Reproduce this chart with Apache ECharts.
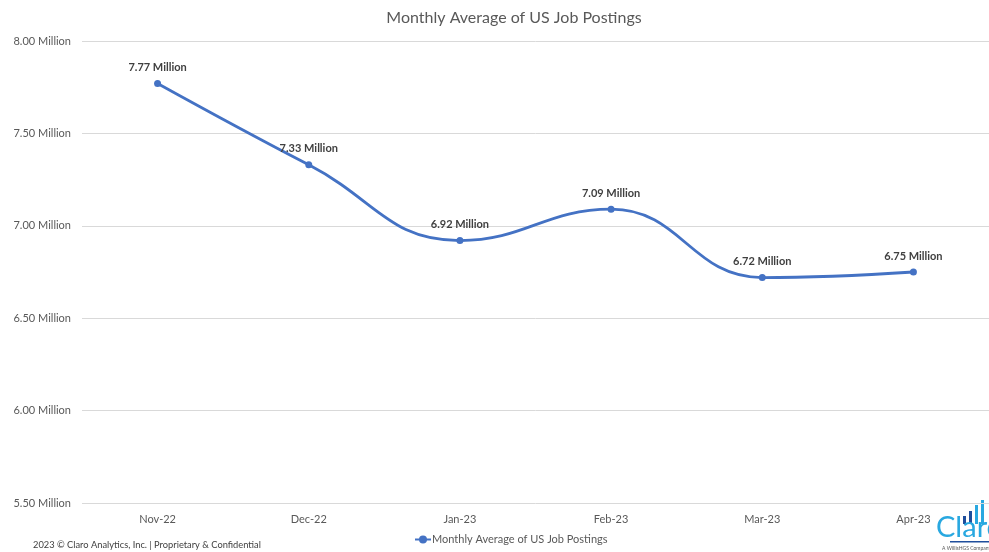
<!DOCTYPE html>
<html>
<head>
<meta charset="utf-8">
<script src="https://cdn.jsdelivr.net/npm/echarts@6/dist/echarts.min.js"></script>
<style>
  html, body { margin: 0; padding: 0; background: #ffffff; }
  #chart { width: 989px; height: 552px; }
</style>
</head>
<body>
<div id="chart"></div>
<script>
// Monthly average of US job postings, in millions
const months = ['Nov-22', 'Dec-22', 'Jan-23', 'Feb-23', 'Mar-23', 'Apr-23'];
const postings = [7.77, 7.33, 6.92, 7.09, 6.72, 6.75];
const yMin = 5.5;
const yMax = 8.0;
const yStep = 0.5;
const seriesName = 'Monthly Average of US Job Postings';

const FONT = 'Lato, "Open Sans", sans-serif';
const chart = echarts.init(document.getElementById('chart'));

chart.setOption({
  backgroundColor: '#ffffff',
  animation: false,
  title: {
    text: seriesName,
    left: 509,
    top: 5,
    textAlign: 'center',
    textStyle: { fontFamily: FONT, fontSize: 16, fontWeight: 'normal', color: '#595959' }
  },
  legend: {
    bottom: 2,
    left: 409,
    itemWidth: 16,
    itemHeight: 10,
    itemGap: 4,
    textStyle: { fontFamily: FONT, fontSize: 11, color: '#595959', padding: [0, 0, 0, -4] },
    data: [seriesName]
  },
  grid: { left: 82, top: 41, width: 913, height: 462, containLabel: false },
  xAxis: {
    type: 'category',
    data: months,
    boundaryGap: true,
    axisLine: { show: false },
    axisTick: { show: false },
    axisLabel: { fontFamily: FONT, fontSize: 11, color: '#595959', margin: 11 }
  },
  yAxis: {
    type: 'value',
    min: yMin,
    max: yMax,
    interval: yStep,
    axisLine: { show: false },
    axisTick: { show: false },
    splitLine: { lineStyle: { color: '#d9d9d9', width: 1 } },
    axisLabel: {
      fontFamily: FONT, fontSize: 11, color: '#595959', margin: 11,
      formatter: v => v.toFixed(2) + ' Million'
    }
  },
  series: [{
    name: seriesName,
    type: 'line',
    data: postings,
    smooth: 0.45,
    symbol: 'circle',
    symbolSize: 7,
    lineStyle: { color: '#4472C4', width: 2.8 },
    itemStyle: { color: '#4472C4' },
    label: {
      show: true,
      position: 'top',
      distance: 7,
      fontFamily: FONT,
      fontSize: 11,
      fontWeight: 'bold',
      color: '#404040',
      formatter: p => p.value.toFixed(2) + ' Million'
    }
  }],
  graphic: [
    {
      type: 'text',
      left: 33,
      top: 540,
      style: {
        text: '2023 \u00A9 Claro Analytics, Inc. | Proprietary & Confidential',
        fontFamily: FONT, fontSize: 9.3, fill: '#404040'
      }
    },
    // Claro wordmark in the lower right corner
    { type: 'rect', shape: { x: 963, y: 516, width: 3, height: 8 }, style: { fill: '#1f4e9c' } },
    { type: 'rect', shape: { x: 969, y: 511, width: 3, height: 13 }, style: { fill: '#1f4e9c' } },
    { type: 'rect', shape: { x: 975, y: 505, width: 3, height: 19 }, style: { fill: '#29a8e0' } },
    { type: 'rect', shape: { x: 981, y: 500, width: 3, height: 24 }, style: { fill: '#29a8e0' } },
    {
      type: 'text',
      left: 936,
      top: 513,
      style: { text: 'Claro', fontFamily: FONT, fontSize: 29, fill: '#29a8e0' }
    },
    { type: 'rect', shape: { x: 950, y: 541, width: 39, height: 1.5 }, style: { fill: '#1f4e9c' } },
    {
      type: 'text',
      left: 942,
      top: 546,
      style: { text: 'A WillisHGS Company', fontFamily: FONT, fontSize: 5, fill: '#555555' }
    }
  ]
});
</script>
</body>
</html>
